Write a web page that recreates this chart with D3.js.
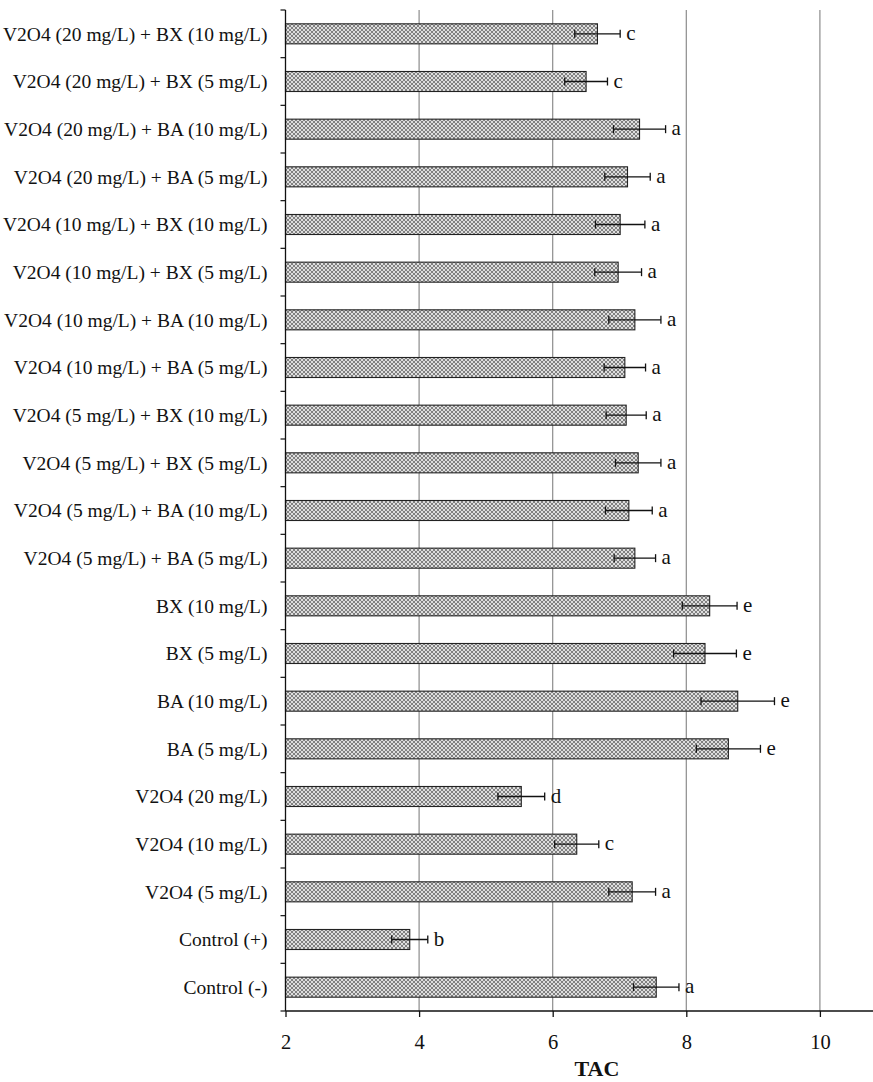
<!DOCTYPE html>
<html>
<head>
<meta charset="utf-8">
<script src="https://cdn.jsdelivr.net/npm/d3@7"></script>
<style>
  html, body { margin: 0; padding: 0; background: #fff; }
  svg text { font-family: "Liberation Serif", "Times New Roman", serif; fill: #111; }
</style>
</head>
<body>
<svg id="chart" width="873" height="1082"></svg>
<script>
// Treatment groups, listed top to bottom
const categories = [
  "V2O4 (20 mg/L) + BX (10 mg/L)",
  "V2O4 (20 mg/L) + BX (5 mg/L)",
  "V2O4 (20 mg/L) + BA (10 mg/L)",
  "V2O4 (20 mg/L) + BA (5 mg/L)",
  "V2O4 (10 mg/L) + BX (10 mg/L)",
  "V2O4 (10 mg/L) + BX (5 mg/L)",
  "V2O4 (10 mg/L) + BA (10 mg/L)",
  "V2O4 (10 mg/L) + BA (5 mg/L)",
  "V2O4 (5 mg/L) + BX (10 mg/L)",
  "V2O4 (5 mg/L) + BX (5 mg/L)",
  "V2O4 (5 mg/L) + BA (10 mg/L)",
  "V2O4 (5 mg/L) + BA (5 mg/L)",
  "BX (10 mg/L)",
  "BX (5 mg/L)",
  "BA (10 mg/L)",
  "BA (5 mg/L)",
  "V2O4 (20 mg/L)",
  "V2O4 (10 mg/L)",
  "V2O4 (5 mg/L)",
  "Control (+)",
  "Control (-)"
];
// Mean TAC per group
const tacMeans = [6.67, 6.50, 7.30, 7.12, 7.01, 6.98, 7.23, 7.08, 7.10, 7.28, 7.14, 7.23,
                  8.35, 8.28, 8.77, 8.63, 5.53, 6.36, 7.19, 3.86, 7.55];
// Error (±) per group
const tacErrors = [0.34, 0.32, 0.39, 0.34, 0.37, 0.35, 0.39, 0.31, 0.30, 0.34, 0.35, 0.31,
                   0.41, 0.47, 0.55, 0.48, 0.35, 0.33, 0.35, 0.27, 0.34];
// Significance letters
const sigLetters = ["c", "c", "a", "a", "a", "a", "a", "a", "a", "a", "a", "a",
                    "e", "e", "e", "e", "d", "c", "a", "b", "a"];
const xTicks = [2, 4, 6, 8, 10];
const xDomain = [2, 11.8];

const svg = d3.select("#chart");
const plotLeft = 285.5, plotTop = 10, plotBottom = 1011, plotRight = 285.5 + 9.8 * 66.8;

const x = d3.scaleLinear().domain(xDomain).range([plotLeft, plotRight]);
const y = d3.scaleBand().domain(categories).range([plotTop, plotBottom]).paddingInner(0.58).paddingOuter(0.29);

// Cross-hatch fill for the bars
const defs = svg.append("defs");
const pat = defs.append("pattern")
  .attr("id", "hatch").attr("patternUnits", "userSpaceOnUse")
  .attr("width", 4).attr("height", 4);
pat.append("rect").attr("width", 4).attr("height", 4).attr("fill", "#dedede");
pat.append("path").attr("d", "M0,0L4,4M4,0L0,4")
  .attr("stroke", "#767676").attr("stroke-width", 0.9);

// Vertical grid lines
svg.append("g").selectAll("line")
  .data(xTicks.filter(d => d > xDomain[0]))
  .join("line")
  .attr("x1", d => x(d)).attr("x2", d => x(d))
  .attr("y1", plotTop).attr("y2", plotBottom)
  .attr("stroke", "#8c8c8c").attr("stroke-width", 1.2);

// Bars
svg.append("g").selectAll("rect")
  .data(categories)
  .join("rect")
  .attr("x", x(xDomain[0]))
  .attr("y", d => y(d))
  .attr("width", (d, i) => x(tacMeans[i]) - x(xDomain[0]))
  .attr("height", y.bandwidth())
  .attr("fill", "url(#hatch)")
  .attr("stroke", "#222").attr("stroke-width", 1.1);

// Error bars with significance letters
const eb = svg.append("g");
categories.forEach((c, i) => {
  const cy = y(c) + y.bandwidth() / 2;
  const x0 = x(tacMeans[i] - tacErrors[i]), x1 = x(tacMeans[i] + tacErrors[i]);
  eb.append("line").attr("x1", x0).attr("x2", x1).attr("y1", cy).attr("y2", cy)
    .attr("stroke", "#111").attr("stroke-width", 1.3);
  [x0, x1].forEach(xx => eb.append("line")
    .attr("x1", xx).attr("x2", xx).attr("y1", cy - 4).attr("y2", cy + 4)
    .attr("stroke", "#111").attr("stroke-width", 1.3));
  eb.append("text")
    .attr("x", x1 + 6).attr("y", cy)
    .attr("dy", "0.3em")
    .attr("font-size", 21)
    .text(sigLetters[i]);
});

// X axis
const xAxis = svg.append("g").attr("transform", `translate(0,${plotBottom})`);
xAxis.append("line").attr("x1", plotLeft).attr("x2", 873).attr("y1", 0).attr("y2", 0)
  .attr("stroke", "#111").attr("stroke-width", 1.3);
xAxis.call(d3.axisBottom(x).tickValues(xTicks).tickSize(6).tickFormat(d3.format("d")))
  .call(g => g.select(".domain").remove())
  .call(g => g.selectAll(".tick line").attr("stroke", "#111").attr("stroke-width", 1.3))
  .call(g => g.selectAll(".tick text").attr("font-size", 20.5)
    .attr("font-family", "Liberation Serif, serif").attr("fill", "#111").attr("dy", "1.4em"));

// Y axis
const yAxis = svg.append("g").attr("transform", `translate(${plotLeft},0)`);
yAxis.append("line").attr("x1", 0).attr("x2", 0).attr("y1", plotTop).attr("y2", plotBottom)
  .attr("stroke", "#111").attr("stroke-width", 1.3);
// boundary ticks between groups
const boundaries = d3.range(categories.length + 1)
  .map(i => plotTop + i * (plotBottom - plotTop) / categories.length);
yAxis.selectAll("line.bt").data(boundaries).join("line").attr("class", "bt")
  .attr("x1", -5).attr("x2", 0).attr("y1", d => d).attr("y2", d => d)
  .attr("stroke", "#111").attr("stroke-width", 1.2);
yAxis.selectAll("text.cat").data(categories).join("text").attr("class", "cat")
  .attr("x", -18).attr("y", d => y(d) + y.bandwidth() / 2)
  .attr("dy", "0.35em").attr("text-anchor", "end")
  .attr("font-size", 19.5)
  .text(d => d);

// Axis title
svg.append("text")
  .attr("x", 597).attr("y", 1076)
  .attr("text-anchor", "middle")
  .attr("font-size", 22).attr("font-weight", "bold")
  .text("TAC");
</script>
</body>
</html>
